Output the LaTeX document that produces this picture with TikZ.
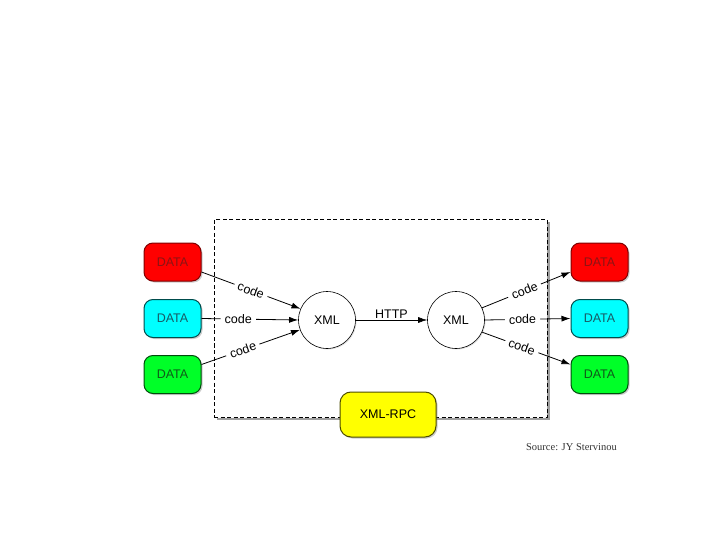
\documentclass[tikz,border=0pt]{standalone}
\usepackage{fontspec}
\setmainfont{Liberation Sans}
\newfontfamily\srcfont{Liberation Serif}
\usetikzlibrary{shadows,arrows.meta,calc}
\definecolor{dRed}{RGB}{255,0,0}
\definecolor{dRedTxt}{RGB}{140,20,20}
\definecolor{dCyan}{RGB}{0,255,255}
\definecolor{dCyanTxt}{RGB}{25,90,100}
\definecolor{dGreen}{RGB}{0,255,40}
\definecolor{dGreenTxt}{RGB}{15,90,25}
\definecolor{dYellow}{RGB}{255,255,0}
\begin{document}
\begin{tikzpicture}[x=1pt,y=-1pt,
  lbl/.style={font=\fontsize{12.5}{14}\selectfont},
  databox/.style={lbl, line width=1pt, rounded corners=9pt, minimum width=57pt,
    minimum height=38pt, inner sep=0pt,
    drop shadow={shadow xshift=1.5pt,shadow yshift=-1.5pt,opacity=0.4}},
  xmlnode/.style={lbl, circle, draw=black, line width=0.6pt, fill=white,
    minimum size=57pt, inner sep=0pt,
    drop shadow={shadow xshift=1pt,shadow yshift=-1pt,opacity=0.25}},
  framebox/.style={draw=black, dashed, dash pattern=on 4pt off 2.5pt, line width=1pt,
    fill=white, minimum width=333pt, minimum height=198pt,
    drop shadow={shadow xshift=2.5pt,shadow yshift=-2.5pt,opacity=0.75}},
  rpcbox/.style={lbl, draw=black!70!dYellow, fill=dYellow, line width=1pt,
    rounded corners=11pt, minimum width=96pt, minimum height=45pt, inner sep=0pt,
    drop shadow={shadow xshift=1.5pt,shadow yshift=-1.5pt,opacity=0.4}},
  conn/.style={-{Latex[length=9pt,width=6pt]}, line width=0.8pt},
  codelbl/.style={lbl, fill=white, inner xsep=4pt, inner ysep=1pt, sloped}
]
\useasboundingbox (0,0) rectangle (720,540);

\node[framebox] (frame) at (380.5,318.5) {};

\node[databox, fill=dRed, draw=dRed!50!black, text=dRedTxt] (ld1) at (172.5,262) {DATA};
\node[databox, fill=dCyan, draw=dCyan!30!black, text=dCyanTxt] (ld2) at (172.5,318.5) {DATA};
\node[databox, fill=dGreen, draw=dGreen!30!black, text=dGreenTxt] (ld3) at (172.5,374.5) {DATA};

\node[databox, fill=dRed, draw=dRed!50!black, text=dRedTxt] (rd1) at (599.5,262) {DATA};
\node[databox, fill=dCyan, draw=dCyan!30!black, text=dCyanTxt] (rd2) at (599.5,318.5) {DATA};
\node[databox, fill=dGreen, draw=dGreen!30!black, text=dGreenTxt] (rd3) at (599.5,374.5) {DATA};

\node[xmlnode] (cl) at (327,320) {XML};
\node[xmlnode] (cr) at (456,320) {XML};

\node[rpcbox] (rpc) at (388,414.5) {XML-RPC};

\draw[conn] ($(ld1.east)+(0,10)$) -- node[codelbl, pos=0.5] {code} (cl.157);
\draw[conn] (ld2.east) -- node[codelbl, pos=0.38] {code} (cl.west);
\draw[conn] ($(ld3.east)+(0,-10)$) -- node[codelbl, pos=0.42] {code} (cl.200);

\draw[conn, line width=0.6pt] (cl.east) -- node[lbl, above, inner sep=1pt] {HTTP} (cr.west);

\draw[conn] (cr.25) -- node[codelbl, pos=0.48] {code} ($(rd1.west)+(0,10)$);
\draw[conn] (cr.east) -- node[codelbl, pos=0.44] {code} (rd2.west);
\draw[conn] (cr.-25) -- node[codelbl, pos=0.45] {code} ($(rd3.west)+(0,-10)$);

\node[font=\srcfont\fontsize{10.5}{12}\selectfont, text=black!80] (src) at (571.5,447.5) {Source: JY Stervinou};
\end{tikzpicture}
\end{document}
